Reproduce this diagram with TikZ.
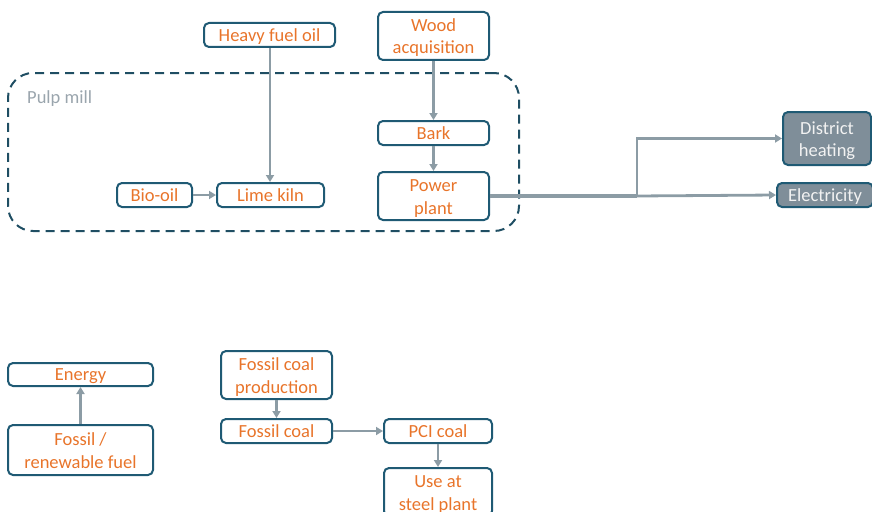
\documentclass[tikz,border=0pt]{standalone}
\usepackage{fontspec}
\setmainfont{Carlito}
\usetikzlibrary{arrows.meta}
\definecolor{boxline}{HTML}{1F5A74}
\definecolor{millline}{HTML}{1F4E63}
\definecolor{labeltxt}{HTML}{E8742A}
\definecolor{flow}{HTML}{8C9CA5}
\definecolor{outfill}{HTML}{7F8E99}
\definecolor{milltxt}{HTML}{9AA5AD}
% fixed line metrics for two-line labels
\newcommand{\firstline}{\rule{0pt}{17.5pt}}
\newcommand{\lastline}{\rule[-4pt]{0pt}{4pt}}
\tikzset{
  box/.style={draw=boxline, line width=2pt, rounded corners=5pt, text=labeltxt,
    align=center, inner sep=0pt, font=\fontsize{18.5}{22.5}\selectfont},
  oneline/.style={text height=12.5pt, text depth=0pt},
  outbox/.style={box, fill=outfill, text=white!95!black},
  flowarrow/.style={draw=flow, line width=2.8pt, -{Triangle[length=7pt,width=8pt]}},
  mainflow/.style={draw=flow, line width=4.5pt},
}
\begin{document}
\begin{tikzpicture}[x=1pt,y=-1pt]
\useasboundingbox (0,0) rectangle (872,511);

% pulp mill boundary
\node[draw=millline, line width=2pt, dash pattern=on 9pt off 6pt, rounded corners=25pt,
  minimum width=511pt, minimum height=158pt, inner sep=0pt] (mill) at (263.5,152) {};
\node[anchor=west, text=milltxt, inner sep=0pt, font=\fontsize{18.5}{22.5}\selectfont] (milllabel) at (27,99) {Pulp mill};

% upper process chain
\node[box, oneline, minimum width=131pt, minimum height=24pt] (hfo) at (269.5,35) {Heavy fuel oil};
\node[box, minimum width=111pt, minimum height=48pt] (wood) at (433.5,36) {\firstline Wood\\acquisition\lastline};
\node[box, oneline, minimum width=111pt, minimum height=24pt] (bark) at (433.5,133) {Bark};
\node[box, minimum width=111pt, minimum height=48pt] (power) at (433.5,196) {\firstline Power\\plant\lastline};
\node[box, oneline, minimum width=75pt, minimum height=24pt] (bio) at (154.5,195) {Bio-oil};
\node[box, oneline, minimum width=107pt, minimum height=24pt] (lime) at (270.5,195) {Lime kiln};
\node[outbox, minimum width=88pt, minimum height=53pt] (district) at (827,138.5) {\firstline District\\heating\lastline};
\node[outbox, oneline, minimum width=96pt, minimum height=24pt] (elec) at (825,195) {Electricity};

% lower process chains
\node[box, oneline, minimum width=145pt, minimum height=23pt] (energy) at (80.5,374.5) {Energy};
\node[box, minimum width=145pt, minimum height=50pt] (fuel) at (80.5,450) {\firstline Fossil /\\renewable fuel\lastline};
\node[box, minimum width=111pt, minimum height=48pt] (fcp) at (276.5,375) {\firstline Fossil coal\\production\lastline};
\node[box, oneline, minimum width=111pt, minimum height=24pt] (fc) at (276.5,431) {Fossil coal};
\node[box, oneline, minimum width=108pt, minimum height=24pt] (pci) at (438,431) {PCI coal};
\node[box, minimum width=108pt, minimum height=48pt] (steel) at (438,492) {\firstline Use at\\steel plant\lastline};

% flows
\coordinate (split) at (637,196);
\draw[flowarrow] (hfo.south -| 270,0) -- (270,0 |- lime.north);
\draw[flowarrow] (wood.south) -- (bark.north);
\draw[flowarrow] (bark.south) -- (power.north);
\draw[flowarrow] (bio.east) -- (lime.west);
\draw[mainflow] (power.east) -- (split);
\draw[flowarrow] (split) |- (district.west);
\draw[flowarrow] (split) -- (elec.west);
\draw[flowarrow] (fuel.north) -- (energy.south);
\draw[flowarrow] (fcp.south) -- (fc.north);
\draw[flowarrow] (fc.east) -- (pci.west);
\draw[flowarrow] (pci.south) -- (steel.north);
\end{tikzpicture}
\end{document}
